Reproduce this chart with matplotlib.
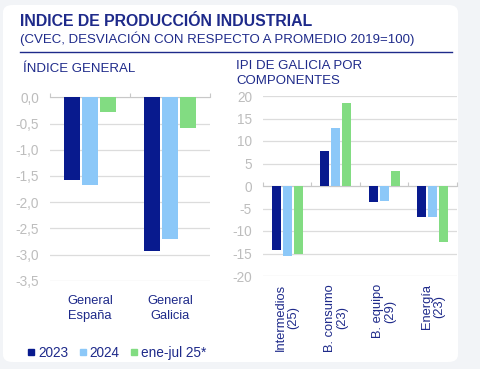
import matplotlib
matplotlib.use("Agg")
import matplotlib.pyplot as plt
import numpy as np
from matplotlib.patches import FancyBboxPatch
from matplotlib.lines import Line2D
from matplotlib.transforms import blended_transform_factory

plt.rcParams['font.family'] = ['Liberation Sans', 'DejaVu Sans']

# ---- data ----
series = ["2023", "2024", "ene-jul 25*"]
left_cats = ["General\nEspaña", "General\nGalicia"]
left_2023 = [-1.57, -2.93]
left_2024 = [-1.68, -2.71]
left_2025 = [-0.29, -0.58]

right_cats = ["Intermedios\n(25)", "B. consumo\n(23)", "B. equipo\n(29)", "Energía\n(23)"]
right_2023 = [-14.2, 7.8, -3.5, -6.9]
right_2024 = [-15.5, 12.8, -3.3, -6.9]
right_2025 = [-15.0, 18.4, 3.3, -12.4]

left_ticks = [0.0, -0.5, -1.0, -1.5, -2.0, -2.5, -3.0, -3.5]
right_ticks = [20, 15, 10, 5, 0, -5, -10, -15, -20]

colors = ["#081A8E", "#8CC8F8", "#82DC82"]
navy = "#1E2A8A"
gray_txt = "#BDBDBD"
grid_c = "#DCDCDC"

W, H = 481, 369
fig = plt.figure(figsize=(W / 100, H / 100), dpi=100)
fig.patch.set_facecolor("#F2F4F7")

card = FancyBboxPatch((3 / W, 1 - 362 / H), 455 / W, 357 / H,
                      boxstyle="round,pad=0,rounding_size=0.02",
                      transform=fig.transFigure, facecolor="white",
                      edgecolor="none", zorder=-10)
fig.patches.append(card)

def px(x0, y0, x1, y1):
    return [x0 / W, 1 - y1 / H, (x1 - x0) / W, (y1 - y0) / H]

fig.text(20 / W, 1 - 21 / H, "INDICE DE PRODUCCIÓN INDUSTRIAL", color=navy,
         fontsize=11.4, fontweight="bold", va="center", ha="left")
fig.text(20 / W, 1 - 39 / H, "(CVEC, DESVIACIÓN CON RESPECTO A PROMEDIO 2019=100)",
         color=navy, fontsize=9.5, va="center", ha="left")
fig.add_artist(plt.Line2D([20 / W, 452 / W], [1 - 52 / H, 1 - 52 / H],
                          transform=fig.transFigure, color=navy, lw=1.0))
fig.text(23 / W, 1 - 69 / H, "ÍNDICE GENERAL", color=navy, fontsize=9.5,
         va="center", ha="left")
fig.text(236 / W, 1 - 73.5 / H, "IPI DE GALICIA POR\nCOMPONENTES", color=navy,
         fontsize=9.5, va="center", ha="left", linespacing=1.3)


def style_axes(ax, ncat, ylim, ticks, fmt):
    ax.set_facecolor("none")
    ax.set_xlim(0, ncat)
    ax.set_ylim(*ylim)
    ax.set_yticks(ticks)
    ax.set_yticklabels([fmt(t) for t in ticks], color=gray_txt, fontsize=9.8)
    ax.tick_params(axis="y", length=0, pad=8)
    for s in ["left", "right", "top"]:
        ax.spines[s].set_visible(False)
    ax.spines["bottom"].set_position(("data", 0))
    ax.spines["bottom"].set_color("#C8C8C8")
    ax.set_xticks(np.arange(ncat + 1))
    ax.set_xticklabels([])
    ax.tick_params(axis="x", length=3, direction="in", color="#C8C8C8")
    ax.grid(axis="y", color=grid_c, lw=0.9)
    ax.set_axisbelow(True)


# left panel
axL = fig.add_axes(px(50, 97.3, 210, 280.7))
style_axes(axL, 2, (-3.5, 0), left_ticks, lambda t: f"{t:.1f}".replace(".", ","))
xL = np.arange(len(left_cats)) + 0.5
wL, sL = 0.19, 0.225
for i, vals in enumerate([left_2023, left_2024, left_2025]):
    axL.bar(xL + (i - 1) * sL, vals, width=wL, color=colors[i], label=series[i], zorder=3)
trL = blended_transform_factory(axL.transData, axL.transAxes)
for x, c in zip(xL, left_cats):
    axL.text(x, -0.08, c, transform=trL, ha="center", va="top", color=navy,
             fontsize=9.3, linespacing=1.25)

# right panel
axR = fig.add_axes(px(263, 96, 457, 276))
style_axes(axR, 4, (-20, 20), right_ticks, lambda t: f"{t:d}")
xR = np.arange(len(right_cats)) + 0.5
wR, sR = 0.185, 0.225
for i, vals in enumerate([right_2023, right_2024, right_2025]):
    axR.bar(xR + (i - 1) * sR, vals, width=wR, color=colors[i], zorder=3)
trR = blended_transform_factory(axR.transData, axR.transAxes)
for x, c in zip(xR, right_cats):
    axR.text(x, -0.045, c, transform=trR, ha="center", va="top", color=navy,
             fontsize=9.3, rotation=90, multialignment="center", linespacing=1.05)

handles = [Line2D([], [], marker="s", linestyle="none", color=c, markersize=4.6)
           for c in colors]
fig.legend(handles, series, loc="center left", bbox_to_anchor=(28 / W, 1 - 353 / H),
           ncol=3, frameon=False, fontsize=9.8, handlelength=0.5,
           handletextpad=0.25, columnspacing=0.8, labelcolor=navy, borderpad=0,
           borderaxespad=0)

fig.savefig("out.png", dpi=100, facecolor=fig.get_facecolor())
